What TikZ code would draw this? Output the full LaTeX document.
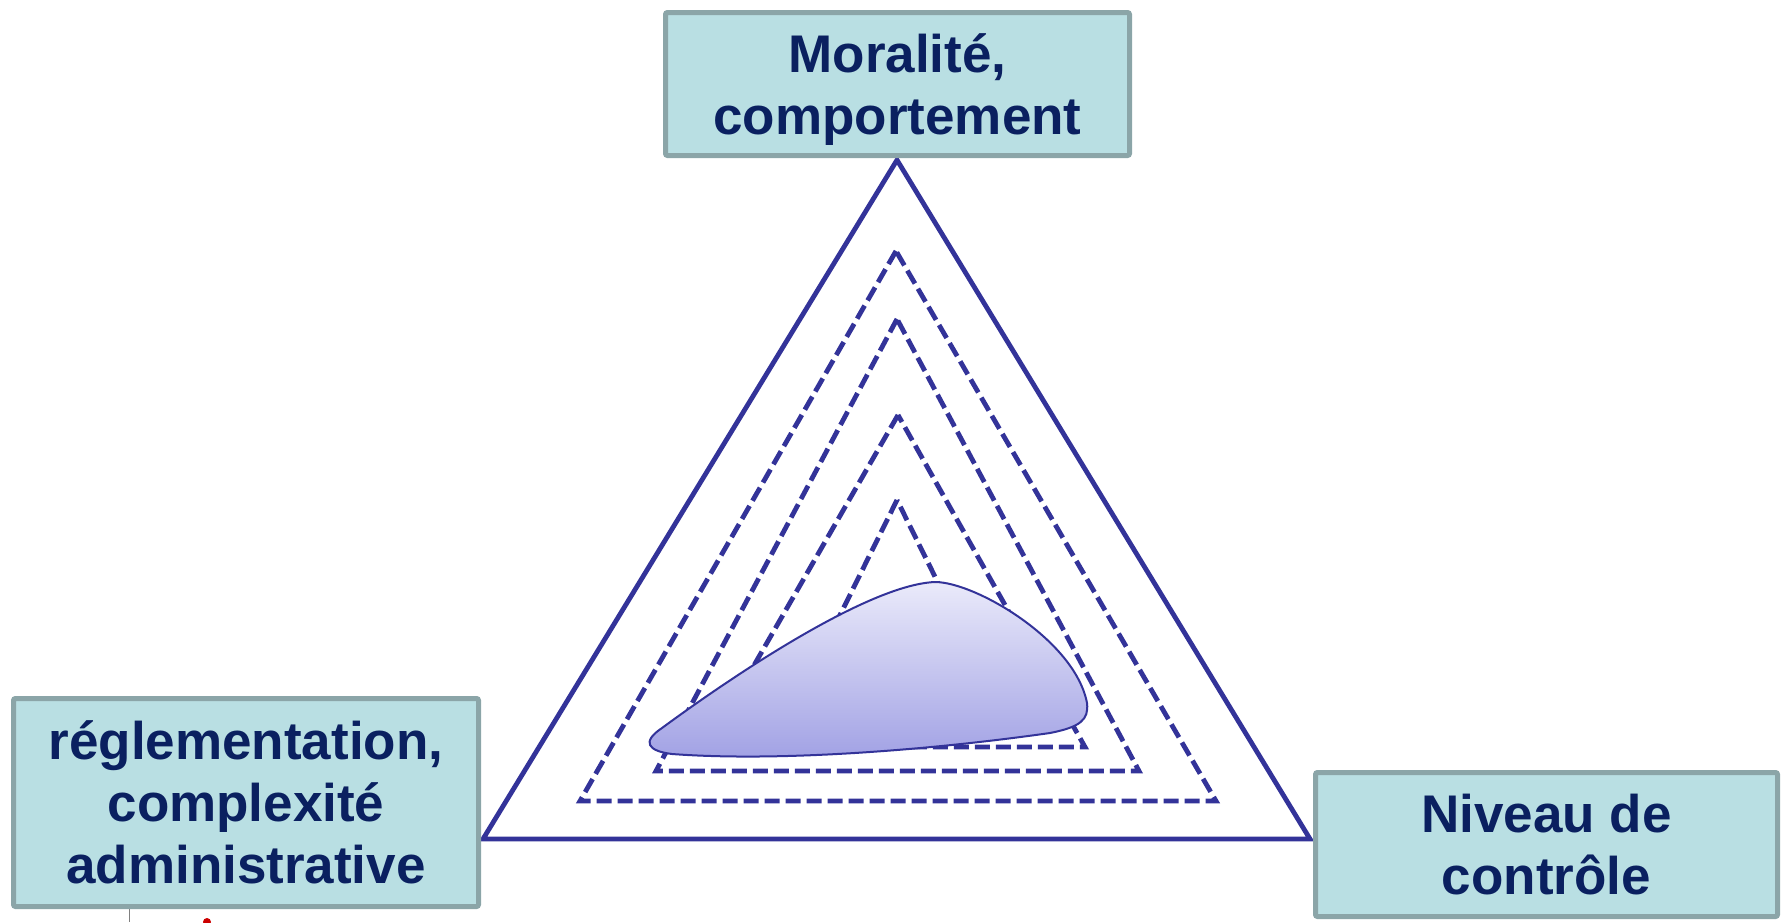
\documentclass[tikz,border=0pt]{standalone}
\usepackage{fontspec}
\setmainfont{Liberation Sans}
\definecolor{bleutrait}{RGB}{51,51,153}
\definecolor{fondcadre}{RGB}{185,223,227}
\definecolor{bordcadre}{RGB}{139,165,168}
\definecolor{texte}{RGB}{10,32,96}
\begin{document}
\begin{tikzpicture}[x=0.5pt,y=-0.5pt]

    \tikzset{
      cadre/.style={
        draw=bordcadre,
        fill=fondcadre,
        line width=2.5pt,
        rounded corners=1pt,
        align=center,
        text=texte,
        text depth=0pt,
        font=\fontsize{26.5pt}{31pt}\selectfont\bfseries,
      },
      cote/.style={color=bleutrait,line width=2.4pt,line join=miter},
      pointille/.style={color=bleutrait,line width=2.4pt,line join=miter,dash pattern=on 7.5pt off 3pt},
    }
    \useasboundingbox (0,0) rectangle (1782,922);

	\coordinate (s0) at (897,160);
	\coordinate (g0) at (483,839);
	\coordinate (d0) at (1310,839);
	\draw[cote] (s0)--(g0)--(d0)--cycle;

	\draw[pointille] (896,251)--(580,801)--(1216,801)--cycle;
	\draw[pointille] (897,319)--(656,771)--(1139,771)--cycle;
	\draw[pointille] (898,415)--(707,747)--(1085,747)--cycle;
	\draw[pointille] (897,500)--(787,722)--(1007,722)--cycle;

	\draw[color=bleutrait,line width=1pt,top color={rgb,255:red,234;green,234;blue,250},bottom color={rgb,255:red,160;green,160;blue,228}]
	  (662,728) .. controls (700,700) and (860,585) .. (935,582)
	  .. controls (975,582) and (1075,640) .. (1087,703)
	  .. controls (1089,720) and (1080,727) .. (1050,733)
	  .. controls (930,750) and (780,762) .. (672,754)
	  .. controls (648,751) and (641,742) .. cycle;

	\draw[color=gray,line width=0.5pt] (129,909)--(129,922);
	\fill[color=red!80!black] (207,922) circle (4);

	\node[cadre,minimum width=232pt,minimum height=71.5pt] (moralite) at (897.5,84) {Moralité,\\comportement};
	\node[cadre,minimum width=232.5pt,minimum height=104pt] (reglement) at (246,802.5) {réglementation,\\complexité\\administrative};
	\node[cadre,minimum width=231pt,minimum height=72pt] (controle) at (1546.5,844.5) {Niveau de\\contrôle};

\end{tikzpicture}
\end{document}
